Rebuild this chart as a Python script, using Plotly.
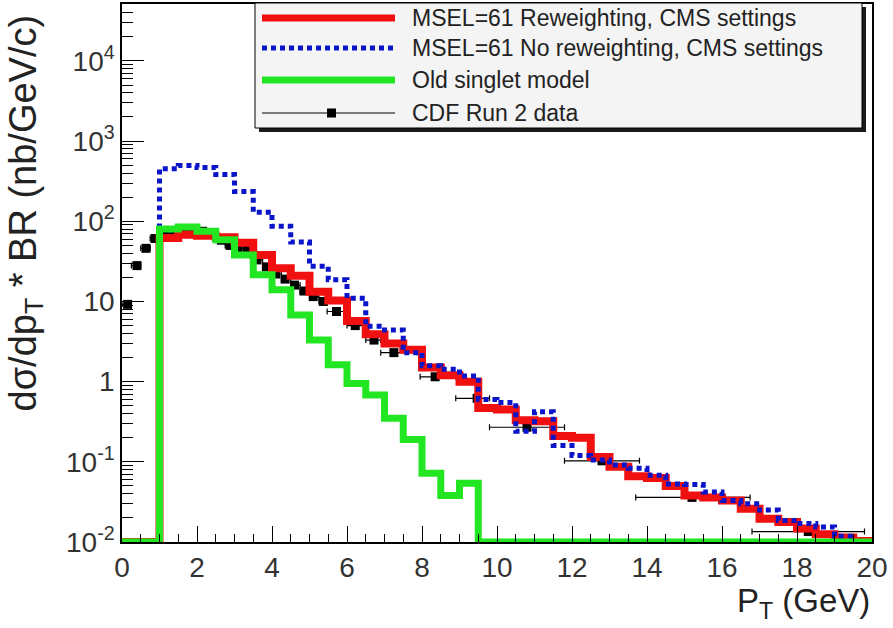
import numpy as np
import plotly.graph_objects as go

# ---------------- data ----------------
bin_width = 0.5
pt_min, pt_max = 0.0, 20.0

# 40 bins of 0.5 GeV from 0 to 20 GeV; 0 = empty bin
reweighted = [0, 0,
              62, 68, 66, 63, 54, 38, 26, 21, 13.2, 10.3,
              5.7, 3.9, 3.0, 2.5, 1.5, 1.2, 1.0, 0.47, 0.45, 0.33,
              0.32, 0.21, 0.20, 0.115, 0.087, 0.066, 0.063, 0.050, 0.038, 0.036,
              0.033, 0.026, 0.0195, 0.0178, 0.0147, 0.0125, 0.0114, 0.0103]
no_reweight = [0, 0,
               452, 497, 470, 383, 235, 130, 87, 55, 27.5, 18.7,
               11.0, 4.9, 4.4, 2.3, 1.58, 1.43, 1.18, 0.60, 0.55, 0.24,
               0.42, 0.16, 0.12, 0.105, 0.091, 0.083, 0.068, 0.053, 0.052, 0.042,
               0.033, 0.030, 0.025, 0.0186, 0.017, 0.0154, 0.0118, 0]
old_singlet = [0, 0,
               80, 85, 75, 59, 38, 21.5, 14, 6.8, 3.3, 1.62,
               0.95, 0.68, 0.35, 0.19, 0.072, 0.038, 0.054, 0, 0, 0,
               0, 0, 0, 0, 0, 0, 0, 0, 0, 0,
               0, 0, 0, 0, 0, 0, 0, 0]

# CDF Run 2 data points
cdf_pt = [0.15, 0.40, 0.64, 0.88, 1.15, 1.40, 1.65, 1.90, 2.15, 2.40, 2.65, 2.88,
          3.10, 3.35, 3.60, 3.85, 4.10, 4.35, 4.60, 4.85, 5.10, 5.37,
          5.72, 6.22, 6.72, 7.25, 8.35, 9.47, 10.8, 12.8, 15.2, 18.3]
cdf_lo = [0.0, 0.25, 0.5, 0.75, 1.0, 1.25, 1.5, 1.75, 2.0, 2.25, 2.5, 2.75,
          3.0, 3.25, 3.5, 3.75, 4.0, 4.25, 4.5, 4.75, 5.0, 5.25,
          5.47, 6.0, 6.5, 6.9, 7.95, 8.9, 9.8, 11.8, 13.7, 16.8]
cdf_hi = [0.25, 0.5, 0.75, 1.0, 1.25, 1.5, 1.75, 2.0, 2.25, 2.5, 2.75, 3.0,
          3.25, 3.5, 3.75, 4.0, 4.25, 4.5, 4.75, 5.0, 5.25, 5.47,
          6.0, 6.5, 6.9, 7.9, 8.9, 9.8, 11.8, 13.8, 16.75, 19.8]
cdf_val = [9.2, 28, 46, 61, 68, 71, 73, 74, 75, 70, 58, 50,
           46, 44, 33, 27, 22, 19, 16, 13.5, 11.5, 10.0,
           7.5, 5.0, 3.3, 2.3, 1.15, 0.62, 0.27, 0.103, 0.036, 0.0135]

series_names = ["MSEL=61 Reweighting, CMS settings",
                "MSEL=61 No reweighting, CMS settings",
                "Old singlet model",
                "CDF Run 2 data"]

y_tick_vals = [1e-2, 1e-1, 1, 10, 1e2, 1e3, 1e4]
y_tick_text = ["10<sup>-2</sup>", "10<sup>-1</sup>", "1", "10",
               "10<sup>2</sup>", "10<sup>3</sup>", "10<sup>4</sup>"]

# ---------------- helpers ----------------
edges = np.arange(pt_min, pt_max + bin_width / 2, bin_width)
y_floor = 1e-2  # ROOT draws empty bins at the axis minimum


def step(vals):
    v = np.array(vals, dtype=float)
    v = np.where(v > 0, v, y_floor)
    return edges, np.append(v, v[-1])


FONT = "Liberation Sans, Arial, sans-serif"
W, H = 893, 628
L, R, T, B = 122, 21, 4, 86
pw, ph = W - L - R, H - T - B


def px_x(p):
    return (p - L) / pw


def px_y(p):
    return (H - B - p) / ph


RED = dict(color="#f01010", width=8)
BLUE = dict(color="#0a14c8", width=5, dash="5px,4px")
GREEN = dict(color="#22e622", width=7)

fig = go.Figure()

cdf_pt_a = np.array(cdf_pt)
fig.add_trace(go.Scatter(
    x=cdf_pt, y=cdf_val, mode="markers", name=series_names[3],
    marker=dict(symbol="square", size=9, color="black"),
    error_x=dict(type="data", symmetric=False,
                 array=list(np.array(cdf_hi) - cdf_pt_a),
                 arrayminus=list(cdf_pt_a - np.array(cdf_lo)),
                 color="black", thickness=1.2, width=3),
))
for vals, style, name in [(reweighted, RED, series_names[0]),
                          (no_reweight, BLUE, series_names[1]),
                          (old_singlet, GREEN, series_names[2])]:
    xs, ys = step(vals)
    fig.add_trace(go.Scatter(x=xs, y=ys, mode="lines", line_shape="hv",
                             line=style, name=name))

# ---------------- ROOT-style legend box with shadow ----------------
box = dict(x0=255, x1=862, y0=3, y1=128)
sh = 4
fig.add_shape(type="rect", xref="paper", yref="paper", layer="above",
              x0=px_x(box["x0"] + sh), x1=px_x(box["x1"] + sh),
              y0=px_y(box["y1"] + sh), y1=px_y(box["y0"] + sh),
              fillcolor="#1a1a1a", line=dict(width=0))
fig.add_shape(type="rect", xref="paper", yref="paper", layer="above",
              x0=px_x(box["x0"]), x1=px_x(box["x1"]),
              y0=px_y(box["y1"]), y1=px_y(box["y0"]),
              fillcolor="#f4f4f4", line=dict(color="black", width=1))

row_y = [18, 48, 80, 113]
samp_x0, samp_x1, text_x = 262, 395, 410
samples = [dict(color=RED["color"], width=7),
           dict(color=BLUE["color"], width=5, dash=BLUE["dash"]),
           dict(color=GREEN["color"], width=7),
           dict(color="black", width=1)]
for ry, name, ln in zip(row_y, series_names, samples):
    fig.add_shape(type="line", xref="paper", yref="paper", layer="above",
                  x0=px_x(samp_x0), x1=px_x(samp_x1), y0=px_y(ry), y1=px_y(ry),
                  line=ln)
    fig.add_annotation(xref="paper", yref="paper", x=px_x(text_x), y=px_y(ry),
                       xanchor="left", yanchor="middle", showarrow=False, text=name,
                       font=dict(family=FONT, size=23, color="#222222"))
mx = (samp_x0 + samp_x1) / 2 + 3
fig.add_shape(type="rect", xref="paper", yref="paper", layer="above",
              x0=px_x(mx - 4.5), x1=px_x(mx + 4.5),
              y0=px_y(row_y[3] + 4.5), y1=px_y(row_y[3] - 4.5),
              fillcolor="black", line=dict(width=0))

# ---------------- axes ----------------
tickfont = dict(family=FONT, size=28, color="#333333")
minor_y = [m * 10.0 ** k for k in range(-2, 5) for m in range(2, 10)]
x_minor = dict(dtick=0.5, ticks="inside", ticklen=8, tickcolor="black")
y_minor = dict(tickmode="array", tickvals=minor_y, ticks="inside",
               ticklen=11, tickcolor="black")

fig.update_layout(
    xaxis=dict(range=[pt_min, pt_max], tick0=0, dtick=2, ticklen=16, ticks="inside",
               tickcolor="black", showline=True, linecolor="black", linewidth=1.5,
               mirror=True, showgrid=False, zeroline=False, tickfont=tickfont,
               minor=x_minor),
    yaxis=dict(type="log", range=[-2, 4.71], tickmode="array", tickvals=y_tick_vals,
               ticktext=y_tick_text, ticklen=22, ticks="inside", tickcolor="black",
               showline=True, linecolor="black", linewidth=1.5, mirror=True,
               showgrid=False, zeroline=False, tickfont=tickfont, minor=y_minor),
    # top / right tick marks (ROOT draws ticks on all four sides)
    xaxis2=dict(overlaying="x", side="top", anchor="y", range=[pt_min, pt_max],
                tick0=0, dtick=2, ticklen=16, ticks="inside", tickcolor="black",
                showticklabels=False, showline=False, showgrid=False, zeroline=False,
                minor=x_minor),
    yaxis2=dict(overlaying="y", side="right", anchor="x", type="log", range=[-2, 4.71],
                tickmode="array", tickvals=y_tick_vals, ticklen=22, ticks="inside",
                tickcolor="black", showticklabels=False, showline=False,
                showgrid=False, zeroline=False, minor=y_minor),
)

fig.add_annotation(xref="paper", yref="paper", x=px_x(25), y=px_y(13),
                   xanchor="center", yanchor="top", textangle=-90, showarrow=False,
                   text="dσ/dp<sub>T</sub> * BR (nb/GeV/c)",
                   font=dict(family=FONT, size=38, color="#222222"))
fig.add_annotation(xref="paper", yref="paper", x=px_x(872), y=px_y(603),
                   xanchor="right", yanchor="middle", showarrow=False,
                   text="P<sub>T</sub> (GeV)",
                   font=dict(family=FONT, size=33, color="#222222"))

fig.update_layout(
    width=W, height=H, margin=dict(l=L, r=R, t=T, b=B, autoexpand=False),
    paper_bgcolor="white", plot_bgcolor="white", showlegend=False,
    font=dict(family=FONT, color="#222222"),
)

fig.write_html("out.html")
